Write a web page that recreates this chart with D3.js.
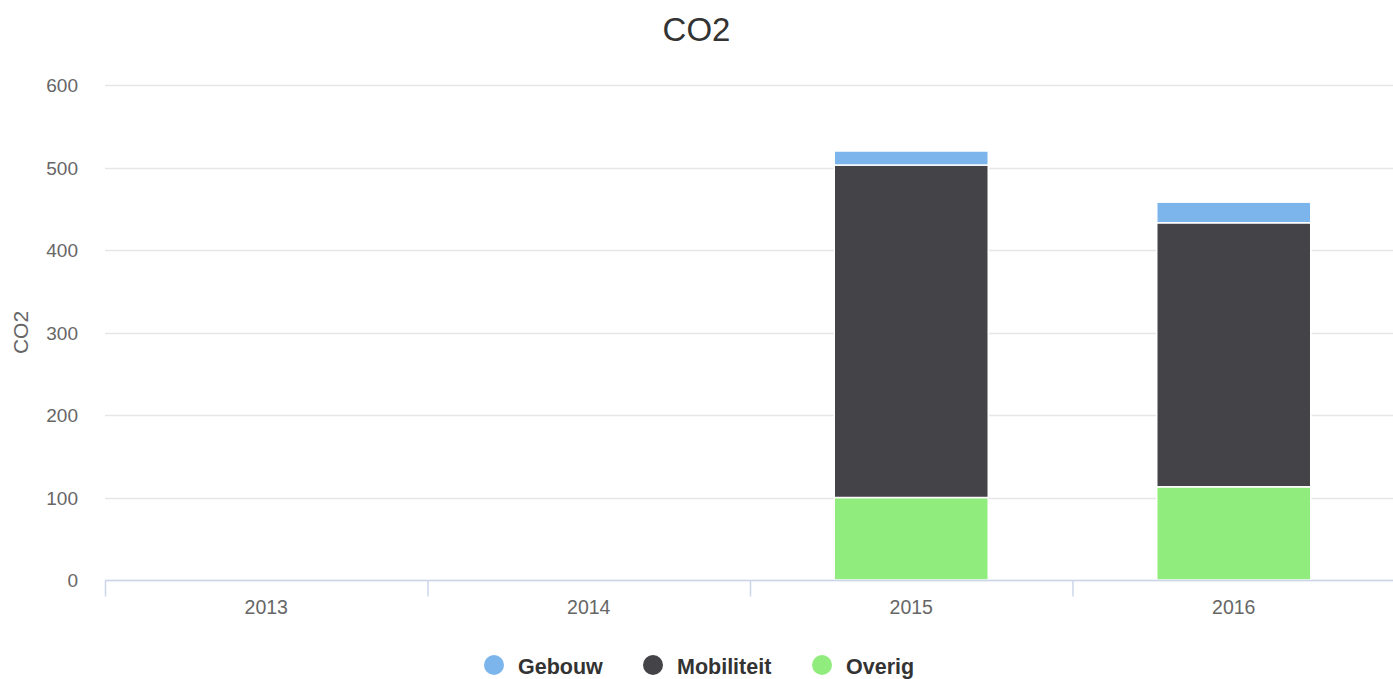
<!DOCTYPE html>
<html>
<head>
<meta charset="utf-8">
<script src="https://cdn.jsdelivr.net/npm/d3@7"></script>
<style>
  body { margin: 0; background: #fff; }
  svg { font-family: "Liberation Sans", Arial, Helvetica, sans-serif; display: block; }
</style>
</head>
<body>
<div id="chart"></div>
<script>
// chart data
var years = ["2013", "2014", "2015", "2016"];
var seriesNames = ["Gebouw", "Mobiliteit", "Overig"];
var gebouw = [0, 0, 17, 25];
var mobiliteit = [0, 0, 403, 320];
var overig = [0, 0, 100, 113];
var yTicks = [0, 100, 200, 300, 400, 500, 600];
var colors = ["#7cb5ec", "#434348", "#90ed7d"];

var width = 1393, height = 679;
var margin = { top: 85, right: 0, bottom: 99, left: 105 };

var svg = d3.select("#chart").append("svg")
    .attr("width", width)
    .attr("height", height);

var x = d3.scaleBand()
    .domain(years)
    .range([margin.left, 1395])
    .paddingInner(0)
    .paddingOuter(0);

var y = d3.scaleLinear()
    .domain([0, 600])
    .range([height - margin.bottom, margin.top]);

// gridlines
svg.append("g")
    .selectAll("line")
    .data(yTicks)
    .enter()
    .append("line")
    .attr("x1", margin.left)
    .attr("x2", width)
    .attr("y1", function(d) { return Math.round(y(d)) + 0.5; })
    .attr("y2", function(d) { return Math.round(y(d)) + 0.5; })
    .attr("stroke", "#e6e6e6")
    .attr("stroke-width", 1.5);

// y tick labels
svg.append("g")
    .selectAll("text")
    .data(yTicks)
    .enter()
    .append("text")
    .attr("x", 78)
    .attr("y", function(d) { return y(d) + 7; })
    .attr("text-anchor", "end")
    .attr("font-size", "19px")
    .attr("fill", "#666666")
    .text(function(d) { return d; });

// y title
svg.append("text")
    .attr("transform", "translate(28," + y(300) + ") rotate(-90)")
    .attr("text-anchor", "middle")
    .attr("font-size", "21px")
    .attr("fill", "#666666")
    .text("CO2");

// stacked bars
var table = years.map(function(yr, i) {
    return { year: yr, Gebouw: gebouw[i], Mobiliteit: mobiliteit[i], Overig: overig[i] };
});
var stack = d3.stack().keys(seriesNames.slice().reverse());
var layers = stack(table);

var barW = 154;
svg.append("g")
    .selectAll("g")
    .data(layers)
    .enter()
    .append("g")
    .attr("fill", function(d) { return colors[seriesNames.indexOf(d.key)]; })
    .selectAll("rect")
    .data(function(d) { return d.filter(function(e) { return e[1] - e[0] > 0; }); })
    .enter()
    .append("rect")
    .attr("x", function(d) { return x(d.data.year) + x.bandwidth() / 2 - barW / 2; })
    .attr("width", barW)
    .attr("y", function(d) { return y(d[1]); })
    .attr("height", function(d) { return y(d[0]) - y(d[1]); })
    .attr("stroke", "#ffffff")
    .attr("stroke-width", 1.5);

// x axis line and ticks
var axisY = height - margin.bottom + 0.5;
svg.append("line")
    .attr("x1", margin.left)
    .attr("x2", width)
    .attr("y1", axisY)
    .attr("y2", axisY)
    .attr("stroke", "#ccd6eb")
    .attr("stroke-width", 1.5);

svg.append("g")
    .selectAll("line")
    .data(years)
    .enter()
    .append("line")
    .attr("x1", function(d) { return x(d) + 0.5; })
    .attr("x2", function(d) { return x(d) + 0.5; })
    .attr("y1", axisY)
    .attr("y2", axisY + 16)
    .attr("stroke", "#ccd6eb")
    .attr("stroke-width", 1.5);

svg.append("g")
    .selectAll("text")
    .data(years)
    .enter()
    .append("text")
    .attr("x", function(d) { return x(d) + x.bandwidth() / 2; })
    .attr("y", 614)
    .attr("text-anchor", "middle")
    .attr("font-size", "19.5px")
    .attr("fill", "#666666")
    .text(function(d) { return d; });

// title
svg.append("text")
    .attr("x", width / 2)
    .attr("y", 41)
    .attr("text-anchor", "middle")
    .attr("font-size", "33px")
    .attr("fill", "#333333")
    .text("CO2");

// legend
var legendX = [494, 653, 822];
var legend = svg.append("g")
    .selectAll("g")
    .data(seriesNames)
    .enter()
    .append("g")
    .attr("transform", function(d, i) { return "translate(" + legendX[i] + ",665)"; });

legend.append("circle")
    .attr("r", 10)
    .attr("fill", function(d, i) { return colors[i]; });

legend.append("text")
    .attr("x", 24)
    .attr("y", 9)
    .attr("font-size", "21.5px")
    .attr("font-weight", "bold")
    .attr("fill", "#333333")
    .text(function(d) { return d; });
</script>
</body>
</html>
